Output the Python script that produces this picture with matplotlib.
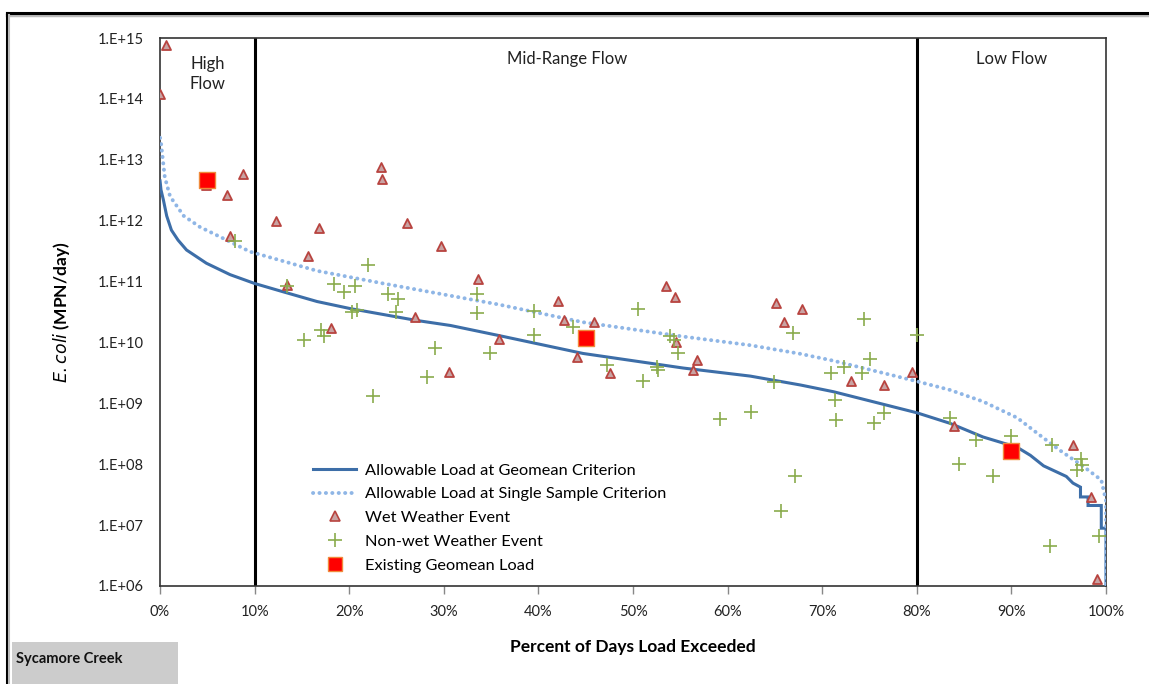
import numpy as np
import matplotlib
matplotlib.use('Agg')
import matplotlib.pyplot as plt
from matplotlib.ticker import FixedLocator, FuncFormatter
from matplotlib.lines import Line2D

plt.rcParams['font.family'] = ['Lato', 'DejaVu Sans']

# ---- allowable load curves (percent exceeded, MPN/day) ----
geo_x = [0.0, 0.1, 0.35, 0.7, 1.2, 1.9, 2.8, 4.9, 7.4, 10.0, 13.0, 16.6, 20.1, 27.1, 30.7, 35.8,
         44.7, 55.3, 62.4, 67.7, 71.2, 80.0, 83.5, 87.0, 90.6, 92.0, 93.4, 95.8, 96.5,
         97.3, 97.3, 98.1, 98.1, 99.5, 99.5, 100.0, 100.0]
geo_y = [4.5e12, 3.2e12, 2.2e12, 1.2e12, 7.0e11, 4.8e11, 3.3e11, 2.0e11, 1.3e11, 9.3e10, 6.8e10, 4.7e10, 3.6e10, 2.3e10, 1.9e10, 1.3e10,
         6.6e9, 3.8e9, 2.8e9, 2.0e9, 1.55e9, 7.0e8, 4.7e8, 2.8e8, 1.9e8, 1.4e8, 9.4e7, 6.3e7, 4.9e7,
         4.2e7, 2.9e7, 2.9e7, 2.1e7, 2.1e7, 8.9e6, 8.9e6, 1.0e6]

ss_x = [0.0, 0.1, 0.5, 1.06, 2.5, 4.2, 6.7, 9.5, 16.6, 23.6, 35.8, 44.7, 55.3, 62.4, 67.7, 71.2,
        80.0, 83.5, 87.0, 90.6, 93.0, 95.1, 97.6, 99.5, 100.0, 100.0]
ss_y = [2.3e13, 1.9e13, 5.2e12, 2.5e12, 1.2e12, 7.9e11, 5.1e11, 3.1e11, 1.5e11, 9.3e10, 4.2e10, 2.15e10, 1.25e10, 9.0e9, 6.5e9, 5.0e9,
        2.3e9, 1.66e9, 1.07e9, 5.8e8, 3.0e8, 1.7e8, 9.2e7, 5.5e7, 2.5e7, 1.0e6]

# ---- wet weather events ----
wet_x = [0.6, 0.0, 4.9, 7.1, 8.8, 7.4, 12.3, 13.4, 15.6, 16.8, 18.1, 23.4, 23.5, 26.1, 27.0,
         29.7, 30.5, 33.6, 35.8, 42.1, 42.7, 44.1, 45.9, 47.6, 53.5, 54.4, 54.5, 56.3, 56.8,
         65.1, 66.0, 67.9, 73.0, 76.5, 79.5, 83.9, 96.5, 98.4, 99.0]
wet_y = [7.8e14, 1.2e14, 3.9e12, 2.6e12, 5.9e12, 5.6e11, 1.0e12, 8.7e10, 2.6e11, 7.5e11, 1.7e10, 7.6e12, 4.8e12, 9.1e11, 2.6e10,
         3.8e11, 3.3e9, 1.1e11, 1.15e10, 4.8e10, 2.3e10, 5.8e9, 2.2e10, 3.1e9, 8.5e10, 5.6e10, 1.0e10, 3.5e9, 5.1e9,
         4.4e10, 2.2e10, 3.6e10, 2.3e9, 2.0e9, 3.3e9, 4.3e8, 2.1e8, 2.9e7, 1.3e6]

# ---- non-wet weather events ----
dry_x = [7.9, 13.4, 15.2, 17.0, 17.3, 18.4, 19.4, 20.3, 20.6, 20.8, 22.0, 22.5, 24.1, 24.9, 25.2,
         28.2, 29.1, 33.5, 33.5, 34.9, 39.5, 39.5, 43.7, 47.2, 50.5, 51.0, 52.5, 52.6, 53.9, 54.3,
         54.7, 59.2, 62.5, 64.9, 65.6, 66.9, 67.1, 70.9, 71.4, 71.5, 72.3, 74.2, 74.4, 75.0, 75.5,
         76.5, 80.0, 83.5, 84.5, 86.3, 88.0, 90.0, 94.1, 94.3, 96.9, 97.4, 97.5, 99.3]
dry_y = [4.6e11, 8.5e10, 1.1e10, 1.6e10, 1.3e10, 9.1e10, 6.8e10, 3.2e10, 8.5e10, 3.4e10, 1.9e11, 1.3e9, 6.3e10, 3.2e10, 5.2e10,
         2.7e9, 8.2e9, 6.3e10, 3.0e10, 6.8e9, 3.3e10, 1.35e10, 1.8e10, 4.3e9, 3.5e10, 2.3e9, 4.0e9, 3.5e9, 1.3e10, 1.1e10,
         6.6e9, 5.5e8, 7.1e8, 2.2e9, 1.7e7, 1.45e10, 6.5e7, 3.1e9, 1.15e9, 5.4e8, 3.9e9, 3.2e9, 2.4e10, 5.3e9, 4.8e8,
         6.9e8, 1.35e10, 5.8e8, 1.0e8, 2.5e8, 6.5e7, 2.9e8, 4.6e6, 2.1e8, 8.1e7, 1.2e8, 9.8e7, 6.6e6]

# ---- existing geomean load per flow regime ----
geomean_x = [5.0, 45.0, 90.0]
geomean_y = [4.7e12, 1.2e10, 1.65e8]

zone_bounds = [10, 80]
zone_names = ['High\nFlow', 'Mid-Range Flow', 'Low Flow']
zone_label_x = [5, 43, 90]

DOTS = (0, (0.05, 1.6))

fig = plt.figure(figsize=(11.49, 6.84), dpi=100)
ax = fig.add_axes([0.1393, 0.1433, 0.8233, 0.8011])

ax.plot(geo_x, geo_y, color='#3d6ea8', lw=2.2, solid_joinstyle='miter', zorder=3)
ax.plot(ss_x, ss_y, color='#8fb6e6', lw=2.8, linestyle=DOTS, dash_capstyle='round', zorder=3)
ax.scatter(wet_x, wet_y, marker='^', s=42, facecolor='#c9a3a3', edgecolor='#b8433f', linewidths=1.3, zorder=4)
ax.scatter(dry_x, dry_y, marker='+', s=110, color='#8aac4d', linewidths=1.2, zorder=4)
ax.scatter(geomean_x, geomean_y, marker='s', s=120, facecolor='#ff0000', edgecolor='#f08a3c', linewidths=1, zorder=5)

for b in zone_bounds:
    ax.axvline(b, color='black', lw=2.2, zorder=2)

ax.text(zone_label_x[0], 1.3e14, zone_names[0], ha='center', va='bottom', fontsize=12, color='#222222',
        linespacing=1.3)
ax.text(zone_label_x[1], 4.5e14, zone_names[1], ha='center', va='center', fontsize=12, color='#222222')
ax.text(zone_label_x[2], 4.5e14, zone_names[2], ha='center', va='center', fontsize=12, color='#222222')

ax.set_yscale('log')
ax.set_xlim(0, 100)
ax.set_ylim(1e6, 1e15)
ax.yaxis.set_major_locator(FixedLocator([10.0 ** k for k in range(6, 16)]))
ax.yaxis.set_minor_locator(FixedLocator([]))
ax.yaxis.set_major_formatter(FuncFormatter(lambda v, p: '1.E+%02d' % round(np.log10(v))))
ax.set_xticks(range(0, 101, 10))
ax.xaxis.set_major_formatter(FuncFormatter(lambda v, p: '%d%%' % v))
ax.tick_params(axis='y', length=0, pad=12, labelsize=10.5, labelcolor='#222222')
ax.tick_params(axis='x', length=6, width=1, color='#888888', pad=8, labelsize=10.5, labelcolor='#222222')
for s in ax.spines.values():
    s.set_color('#333333')
    s.set_linewidth(1.2)

ax.set_xlabel('Percent of Days Load Exceeded', fontsize=12.5, fontweight='bold', labelpad=14)
ax.set_ylabel(r'$\bf{\it{E. coli}}$ (MPN/day)', fontsize=12.5, fontweight='bold', labelpad=18)

handles = [
    Line2D([], [], color='#3d6ea8', lw=2.2),
    Line2D([], [], color='#8fb6e6', lw=2.8, linestyle=DOTS, dash_capstyle='round'),
    Line2D([], [], marker='^', ls='', ms=7, mfc='#c9a3a3', mec='#b8433f', mew=1.2),
    Line2D([], [], marker='+', ls='', ms=10, color='#8aac4d', mew=1.2),
    Line2D([], [], marker='s', ls='', ms=10, mfc='#ff0000', mec='#f08a3c'),
]
labels = ['Allowable Load at Geomean Criterion', 'Allowable Load at Single Sample Criterion',
          'Wet Weather Event', 'Non-wet Weather Event', 'Existing Geomean Load']
ax.legend(handles, labels, loc='lower left', bbox_to_anchor=(0.162, 0.024), frameon=False,
          borderpad=0, borderaxespad=0, fontsize=11.8, handlelength=2.6, labelspacing=0.57,
          handletextpad=0.55)

# outer frame of the chart area
fig.add_artist(Line2D([7 / 1149, 1], [1 - 15 / 684, 1 - 15 / 684], color='#bbbbbb', lw=2.5))
fig.add_artist(Line2D([7 / 1149, 1], [1 - 13 / 684, 1 - 13 / 684], color='black', lw=2.2))
fig.add_artist(Line2D([7 / 1149, 7 / 1149], [0, 1 - 13 / 684], color='black', lw=2.2))
fig.add_artist(Line2D([9 / 1149, 9 / 1149], [0, 1 - 15 / 684], color='#bbbbbb', lw=1.5))

# site name box
fig.patches.append(plt.Rectangle((12 / 1149, 0), 166 / 1149, 42 / 684, transform=fig.transFigure,
                                 facecolor='#cccccc', edgecolor='none'))
fig.text(16 / 1149, 1 - 659 / 684, 'Sycamore Creek', fontsize=10.5, fontweight='bold', va='center',
         color='#111111')

fig.savefig('out.png', dpi=100)
